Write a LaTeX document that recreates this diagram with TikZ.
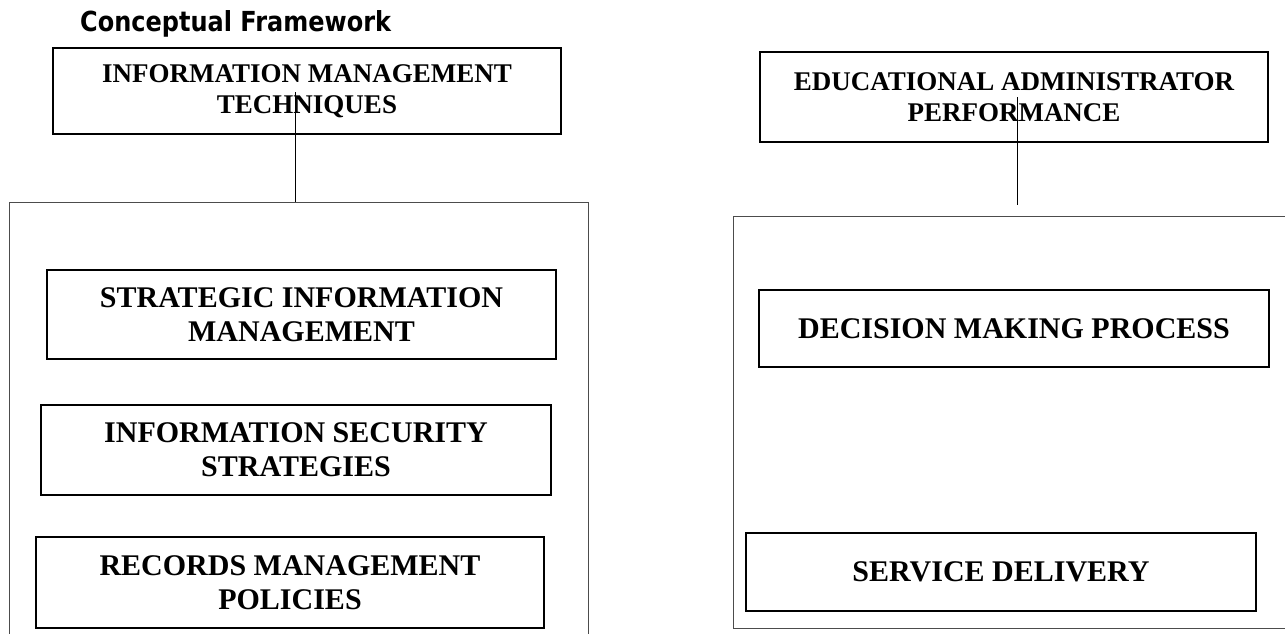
\documentclass[tikz,border=0pt]{standalone}
\usepackage{fontspec}
\setmainfont{Liberation Serif}
\newfontfamily\headfont{DejaVu Sans}

\tikzset{
    inbox/.style={draw, line width=2pt, align=center, inner sep=0pt,
        font=\bfseries\fontsize{30}{34}\selectfont},
    headbox/.style={inbox, font=\bfseries\fontsize{27}{31}\selectfont},
    frame/.style={draw=black!70, line width=1pt},
    link/.style={draw, line width=1pt},
}

\begin{document}
\begin{tikzpicture}[x=1pt, y=-1pt, line join=miter]
    \useasboundingbox (0,0) rectangle (1285,634);
    \clip (0,0) rectangle (1285,634);

    % Tiêu đề
    \node[anchor=base west, inner sep=0pt, font=\headfont\bfseries\fontsize{24}{28}\selectfont] (title) at (80,32) {\scalebox{1}[1.15]{Conceptual Framework}};

    % Cột trái: biến độc lập
    \node[headbox, minimum width=508pt, minimum height=86pt] (imt) at (307,91) {INFORMATION MANAGEMENT\\TECHNIQUES};
    \node[frame, minimum width=579pt, minimum height=448pt] (leftFrame) at (298.5,426) {};
    \coordinate (imtLink) at (295,92);
    \draw[link] (imtLink) -- (imtLink |- leftFrame.north);

    \node[inbox, minimum width=509pt, minimum height=89pt] (sim) at (301.5,314.5) {STRATEGIC INFORMATION\\MANAGEMENT};
    \node[inbox, minimum width=510pt, minimum height=90pt] (iss) at (296,450) {INFORMATION SECURITY\\STRATEGIES};
    \node[inbox, minimum width=508pt, minimum height=91pt] (rmp) at (290,582.5) {RECORDS MANAGEMENT\\POLICIES};

    % Cột phải: biến phụ thuộc
    \node[headbox, minimum width=508pt, minimum height=89pt] (eap) at (1014,97) {EDUCATIONAL ADMINISTRATOR\\PERFORMANCE};
    \node[frame, minimum width=567pt, minimum height=412pt] (rightFrame) at (1016.5,422) {};
    \coordinate (eapEnd) at (1017,205);
    \draw[link] (eap.center -| eapEnd) -- (eapEnd);

    \node[inbox, minimum width=510pt, minimum height=77pt] (dmp) at (1014,328.5) {DECISION MAKING PROCESS};
    \node[inbox, minimum width=510pt, minimum height=78pt] (sd) at (1001,572) {SERVICE DELIVERY};
\end{tikzpicture}
\end{document}
